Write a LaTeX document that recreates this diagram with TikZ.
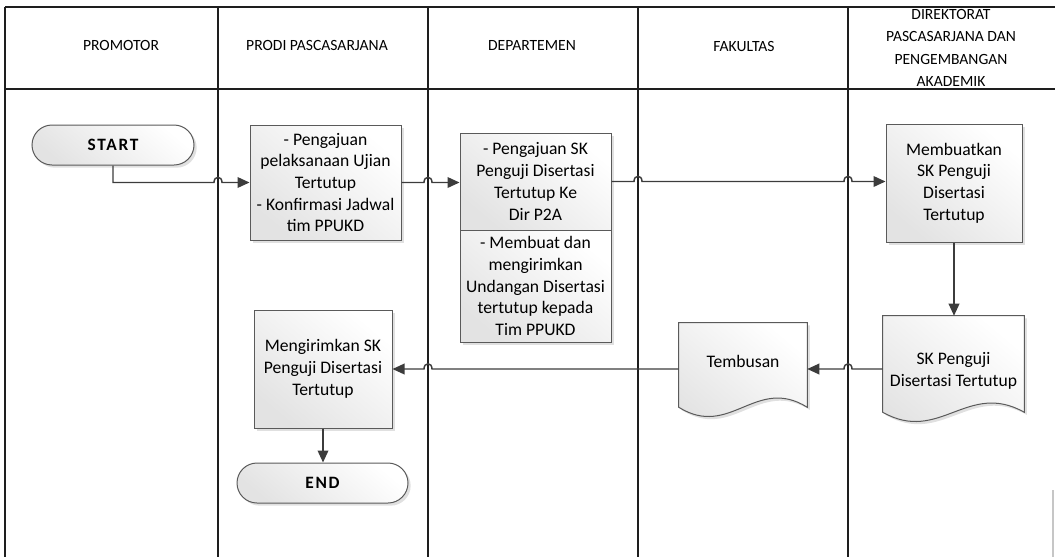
\documentclass[tikz,border=0pt]{standalone}
\usepackage{fontspec}
\setmainfont{Carlito}
\usetikzlibrary{calc,shapes.misc,shadows,arrows.meta}
\definecolor{lanecol}{HTML}{1E1E1E}
\definecolor{conncol}{HTML}{3C3C3C}
\definecolor{boxcol}{HTML}{5A5A5A}
\tikzset{
  lane/.style={draw=lanecol, line width=1.1pt},
  hdr/.style={font=\fontsize{11.7}{16.9}\selectfont, align=center, inner sep=0pt},
  shade/.style={top color=white, bottom color=black!11, shading angle=-40, draw=boxcol, line width=0.75pt,
     drop shadow={shadow xshift=2pt, shadow yshift=-2pt, fill=black!35, opacity=0.35}},
  procbox/.style={shade, rectangle, align=center, inner sep=2pt,
     font=\fontsize{13.2}{16.3}\selectfont},
  termbox/.style={shade, rounded rectangle, inner sep=0pt,
     font=\fontsize{13}{16}\selectfont\bfseries\addfontfeature{LetterSpace=10}},
  docnode/.style={rectangle, align=center, inner sep=0pt, font=\fontsize{13.2}{16.3}\selectfont},
  docshape/.style={shade},
  conn/.style={draw=conncol, line width=1.1pt},
  arr/.style={conn, -{Triangle[length=9pt,width=8pt]}},
}
\begin{document}
\begin{tikzpicture}[x=0.75pt,y=-0.75pt]
\useasboundingbox (0,0) rectangle (1055,557);
% lane coordinates
\coordinate (L1) at (5,0);
\coordinate (L2) at (218,0);
\coordinate (L3) at (428,0);
\coordinate (L4) at (638,0);
\coordinate (L5) at (848,0);
% lanes
\draw[lane] (5,7) -- (1055,7);
\draw[lane] (5,89) -- (1055,89);
\foreach \x in {5,218,428,638,848}{\draw[lane] (\x,7) -- (\x,557);}
\draw[gray!45, line width=0.8pt] (1053,490) -- (1053,557);
% headers
\node[hdr] (h1) at (121,45) {PROMOTOR};
\node[hdr] (h2) at (317,45) {PRODI PASCASARJANA};
\node[hdr] (h3) at (532,45) {DEPARTEMEN};
\node[hdr] (h4) at (744,46) {FAKULTAS};
\node[hdr] (h5) at (951,48) {DIREKTORAT\\PASCASARJANA DAN\\PENGEMBANGAN\\AKADEMIK};
% nodes
\node[termbox, minimum width=121.5pt, minimum height=30pt] (start) at (113,145) {START};
\node[procbox, minimum width=113.25pt, minimum height=86.25pt] (box1) at (325.5,182.5)
  {- Pengajuan\\pelaksanaan Ujian\\Tertutup\\- Konfirmasi Jadwal\\tim PPUKD};
\node[procbox, minimum width=113.25pt, minimum height=72.75pt] (box2a) at (535.5,181.5)
  {- Pengajuan SK\\Penguji Disertasi\\Tertutup Ke\\Dir P2A};
\node[procbox, minimum width=113.25pt, minimum height=84pt] (box2b) at (535.5,286)
  {- Membuat dan\\mengirimkan\\Undangan Disertasi\\tertutup kepada\\Tim PPUKD};
\node[procbox, minimum width=102pt, minimum height=88.5pt] (box3) at (954,183)
  {Membuatkan\\SK Penguji\\Disertasi\\Tertutup};
% documents
\node[docnode, minimum width=105.75pt, minimum height=72pt] (doc1) at (953.5,364) {};
\path[docshape] (doc1.north west) -- (doc1.north east) -- (doc1.south east)
  .. controls ($(doc1.south west)!0.6!(doc1.south east)+(0,-32)$)
  and ($(doc1.south west)!0.4!(doc1.south east)+(0,32)$) .. (doc1.south west) -- cycle;
\node[docnode] (doc1t) at (953.5,371) {SK Penguji\\Disertasi Tertutup};
\node[docnode, minimum width=96pt, minimum height=63pt] (temb) at (743,365) {};
\path[docshape] (temb.north west) -- (temb.north east) -- (temb.south east)
  .. controls ($(temb.south west)!0.6!(temb.south east)+(0,-32)$)
  and ($(temb.south west)!0.4!(temb.south east)+(0,32)$) .. (temb.south west) -- cycle;
\node[docnode] (tembt) at (743,361) {Tembusan};
\node[procbox, minimum width=103.5pt, minimum height=88.5pt] (box4) at (323,369)
  {Mengirimkan SK\\Penguji Disertasi\\Tertutup};
\node[termbox, minimum width=128.25pt, minimum height=30pt] (end) at (322.5,483) {END};
% connectors
\draw[arr] (start.south) |- ($(L2|-box1.west)+(-4,0)$)
  .. controls +(0,-7) and +(0,-7) .. ++(8,0) -- (box1.west);
\draw[arr] (box1.east) -- ($(L3|-box1.east)+(-4,0)$)
  .. controls +(0,-7) and +(0,-7) .. ++(8,0) -- (box2a.west|-box1.east);
\draw[arr] (box2a.east) -- ($(L4|-box2a.east)+(-4,0)$)
  .. controls +(0,-7) and +(0,-7) .. ++(8,0) -- ($(L5|-box2a.east)+(-4,0)$)
  .. controls +(0,-7) and +(0,-7) .. ++(8,0) -- (box3.west|-box2a.east);
\draw[arr] (box3.south) -- (box3.south|-doc1.north);
\draw[arr] (doc1.west|-box4.east) -- ($(L5|-box4.east)+(4,0)$)
  .. controls +(0,-7) and +(0,-7) .. ++(-8,0) -- (temb.east|-box4.east);
\draw[arr] (temb.west|-box4.east) -- ($(L3|-box4.east)+(4,0)$)
  .. controls +(0,-7) and +(0,-7) .. ++(-8,0) -- (box4.east);
\draw[arr] (box4.south) -- (box4.south|-end.north);
\end{tikzpicture}
\end{document}
